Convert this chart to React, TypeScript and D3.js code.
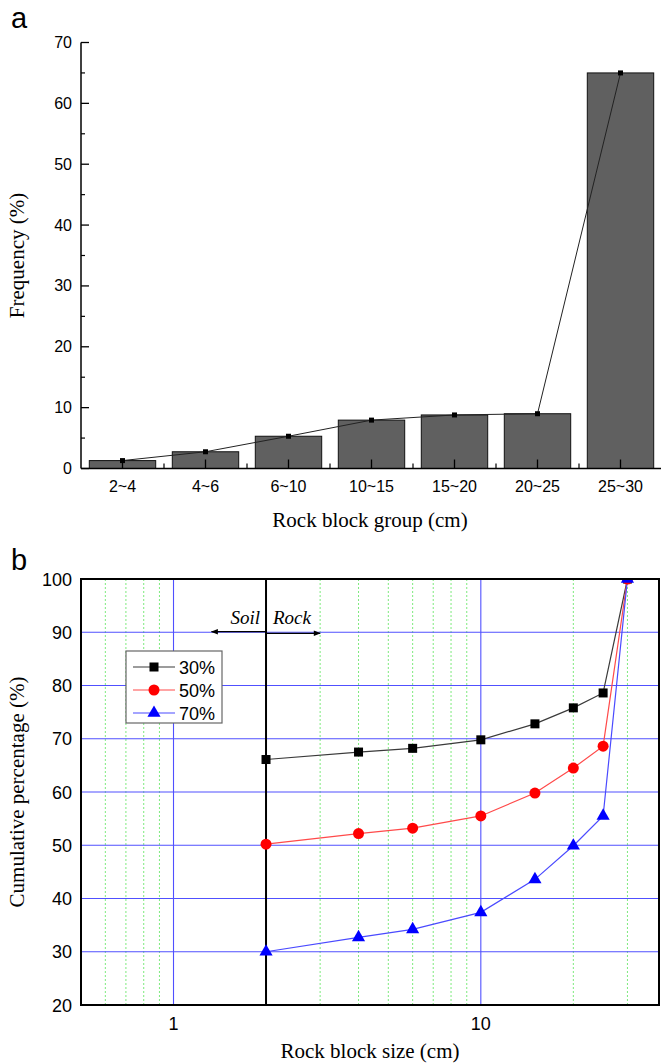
import React from 'react';
import * as d3 from 'd3';

// chart a
const categories = ['2~4', '4~6', '6~10', '10~15', '15~20', '20~25', '25~30'];
const frequency = [1.3, 2.75, 5.3, 7.95, 8.8, 9.0, 65.0];
const yTicksA = [0, 10, 20, 30, 40, 50, 60, 70];
const yMinorA = [5, 15, 25, 35, 45, 55, 65];

// chart b
const sizes = [2, 4, 6, 10, 15, 20, 25, 30];
const cum30 = [66.1, 67.5, 68.2, 69.8, 72.8, 75.8, 78.6, 100];
const cum50 = [50.2, 52.2, 53.2, 55.5, 59.8, 64.5, 68.6, 100];
const cum70 = [30.0, 32.7, 34.2, 37.4, 43.6, 49.9, 55.5, 100];
const seriesNames = ['30%', '50%', '70%'];
const yTicksB = [20, 30, 40, 50, 60, 70, 80, 90, 100];
const xTicksB = [1, 10];
const xMinorB = [0.6, 0.7, 0.8, 0.9, 3, 4, 5, 6, 7, 8, 9, 20, 30];
const boundary = 2;

const sans = '"Liberation Sans", Arial, sans-serif';
const serif = '"Liberation Serif", "Times New Roman", serif';

function ChartA() {
  const left = 81, right = 662, top = 42.5, bottom = 468.5;

  const x = d3.scaleBand()
    .domain(categories)
    .range([left, right])
    .paddingInner(0.2)
    .paddingOuter(0.1);

  const y = d3.scaleLinear().domain([0, 70]).range([bottom, top]);

  const step = x.step();
  const cx = (c: string) => (x(c) as number) + x.bandwidth() / 2;

  const line = d3.line<number>()
    .x((d, i) => cx(categories[i]))
    .y(d => y(d));

  return (
    <g>
      <text x={11} y={28} fontFamily={sans} fontSize={29}>a</text>

      {categories.map((c, i) => (
        <rect key={c}
              x={x(c)}
              y={y(frequency[i])}
              width={x.bandwidth()}
              height={bottom - y(frequency[i])}
              fill="#606060"
              stroke="#111"
              strokeWidth={1} />
      ))}

      <path d={line(frequency) || ''} fill="none" stroke="#222" strokeWidth={1} />
      {frequency.map((v, i) => (
        <rect key={i} x={cx(categories[i]) - 2.5} y={y(v) - 2.5} width={5} height={5} fill="#000" />
      ))}

      {/* axes */}
      <line x1={left} x2={left} y1={top} y2={bottom} stroke="#000" strokeWidth={1.5} />
      <line x1={left} x2={right} y1={bottom} y2={bottom} stroke="#000" strokeWidth={1.5} />

      {yTicksA.map(t => (
        <g key={t}>
          <line x1={left} x2={left + 8} y1={y(t)} y2={y(t)} stroke="#000" strokeWidth={1.3} />
          <text x={72} y={y(t) + 5.5} textAnchor="end" fontFamily={sans} fontSize={16}>{t}</text>
        </g>
      ))}
      {yMinorA.map(t => (
        <line key={t} x1={left} x2={left + 4} y1={y(t)} y2={y(t)} stroke="#000" strokeWidth={1.2} />
      ))}

      {categories.map(c => (
        <g key={c}>
          <line x1={cx(c)} x2={cx(c)} y1={bottom} y2={bottom - 9} stroke="#000" strokeWidth={1.3} />
          <text x={cx(c)} y={492} textAnchor="middle" fontFamily={sans} fontSize={16}>{c}</text>
        </g>
      ))}
      {categories.slice(1).map(c => (
        <line key={c} x1={cx(c) - step / 2} x2={cx(c) - step / 2} y1={bottom} y2={bottom - 5}
              stroke="#000" strokeWidth={1.2} />
      ))}

      <text x={370} y={527} textAnchor="middle" fontFamily={serif} fontSize={21}>Rock block group (cm)</text>
      <text transform={`translate(24,${(top + bottom) / 2}) rotate(-90)`} textAnchor="middle"
            fontFamily={serif} fontSize={21}>Frequency (%)</text>
    </g>
  );
}

function ChartB() {
  const left = 81, right = 659, top = 579, bottom = 1005;

  const x = d3.scaleLog().domain([0.5, 38]).range([left, right]);
  const y = d3.scaleLinear().domain([20, 100]).range([bottom, top]);

  const series = [
    { name: seriesNames[0], values: cum30, line: '#3a3a3a', fill: '#000' },
    { name: seriesNames[1], values: cum50, line: '#ff4a4a', fill: '#ff0000' },
    { name: seriesNames[2], values: cum70, line: '#4a4aff', fill: '#0000ff' },
  ];

  const line = d3.line<number>()
    .x((d, i) => x(sizes[i]))
    .y(d => y(d));

  const marker = (k: number, px: number, py: number, fill: string, key: string | number) => {
    if (k === 0) return <rect key={key} x={px - 4.5} y={py - 4.5} width={9} height={9} fill={fill} />;
    if (k === 1) return <circle key={key} cx={px} cy={py} r={5.5} fill={fill} />;
    const tri = d3.symbol(d3.symbolTriangle, 75)();
    return <path key={key} d={tri || ''} transform={`translate(${px},${py})`} fill={fill} />;
  };

  const legX = 126, legY = 651;

  return (
    <g>
      <defs>
        <clipPath id="plotB">
          <rect x={left} y={top} width={right - left} height={bottom - top} />
        </clipPath>
        <marker id="arr" viewBox="0 0 10 10" refX={9} refY={5} markerWidth={9} markerHeight={7}
                orient="auto-start-reverse" markerUnits="userSpaceOnUse">
          <path d="M0,1 L10,5 L0,9 Z" fill="#000" />
        </marker>
      </defs>

      <text x={11} y={570} fontFamily={sans} fontSize={29}>b</text>

      {/* grid */}
      {xMinorB.map(t => (
        <line key={t} x1={x(t)} x2={x(t)} y1={top} y2={bottom} stroke="#7dea7d" strokeWidth={1}
              strokeDasharray="2,2" />
      ))}
      {xTicksB.map(t => (
        <line key={t} x1={x(t)} x2={x(t)} y1={top} y2={bottom} stroke="#5050ff" strokeWidth={1.1} />
      ))}
      {yTicksB.slice(1, -1).map(t => (
        <line key={t} x1={left} x2={right} y1={y(t)} y2={y(t)} stroke="#5050ff" strokeWidth={1.1} />
      ))}
      <line x1={x(boundary)} x2={x(boundary)} y1={top} y2={bottom} stroke="#000" strokeWidth={2} />

      {/* soil / rock annotation */}
      <line x1={x(boundary)} x2={x(1.33)} y1={y(90.1)} y2={y(90.1)} stroke="#000" strokeWidth={1.3}
            markerEnd="url(#arr)" />
      <line x1={x(boundary)} x2={x(3.0)} y1={y(89.8)} y2={y(89.8)} stroke="#000" strokeWidth={1.3}
            markerEnd="url(#arr)" />
      <text x={x(boundary) - 6} y={624} textAnchor="end" fontFamily={serif} fontStyle="italic" fontSize={19}>Soil</text>
      <text x={x(boundary) + 7} y={624} fontFamily={serif} fontStyle="italic" fontSize={19}>Rock</text>

      {/* series */}
      <g clipPath="url(#plotB)">
        {series.map(s => (
          <path key={s.name} d={line(s.values) || ''} fill="none" stroke={s.line} strokeWidth={1.2} />
        ))}
        {series.map((s, k) => s.values.map((v, i) => marker(k, x(sizes[i]), y(v), s.fill, s.name + i)))}
      </g>

      {/* frame */}
      <rect x={left} y={top} width={right - left} height={bottom - top} fill="none" stroke="#000" strokeWidth={2} />

      {yTicksB.map(t => (
        <text key={t} x={72} y={y(t) + 6.5} textAnchor="end" fontFamily={sans} fontSize={18}>{t}</text>
      ))}
      {xTicksB.map(t => (
        <text key={t} x={x(t)} y={1030} textAnchor="middle" fontFamily={sans} fontSize={18}>{t}</text>
      ))}

      {/* legend */}
      <rect x={legX} y={legY} width={96} height={72} fill="#fff" stroke="#666" strokeWidth={1.2} />
      {series.map((s, k) => {
        const ly = legY + 16 + k * 23;
        return (
          <g key={s.name}>
            <line x1={legX + 7} x2={legX + 49} y1={ly} y2={ly} stroke={s.line} strokeWidth={1.2} />
            {marker(k, legX + 28, ly, s.fill, 'leg' + k)}
            <text x={legX + 53} y={ly + 6.5} fontFamily={sans} fontSize={18}>{s.name}</text>
          </g>
        );
      })}

      <text x={370} y={1058} textAnchor="middle" fontFamily={serif} fontSize={21}>Rock block size (cm)</text>
      <text transform={`translate(24,${(top + bottom) / 2}) rotate(-90)`} textAnchor="middle"
            fontFamily={serif} fontSize={21}>Cumulative percentage (%)</text>
    </g>
  );
}

export default function App() {
  return (
    <svg width={661} height={1064}
         style={{ position: 'absolute', left: 0, top: 0, background: '#fff' }}>
      <rect width={661} height={1064} fill="#fff" />
      <ChartA />
      <ChartB />
    </svg>
  );
}
